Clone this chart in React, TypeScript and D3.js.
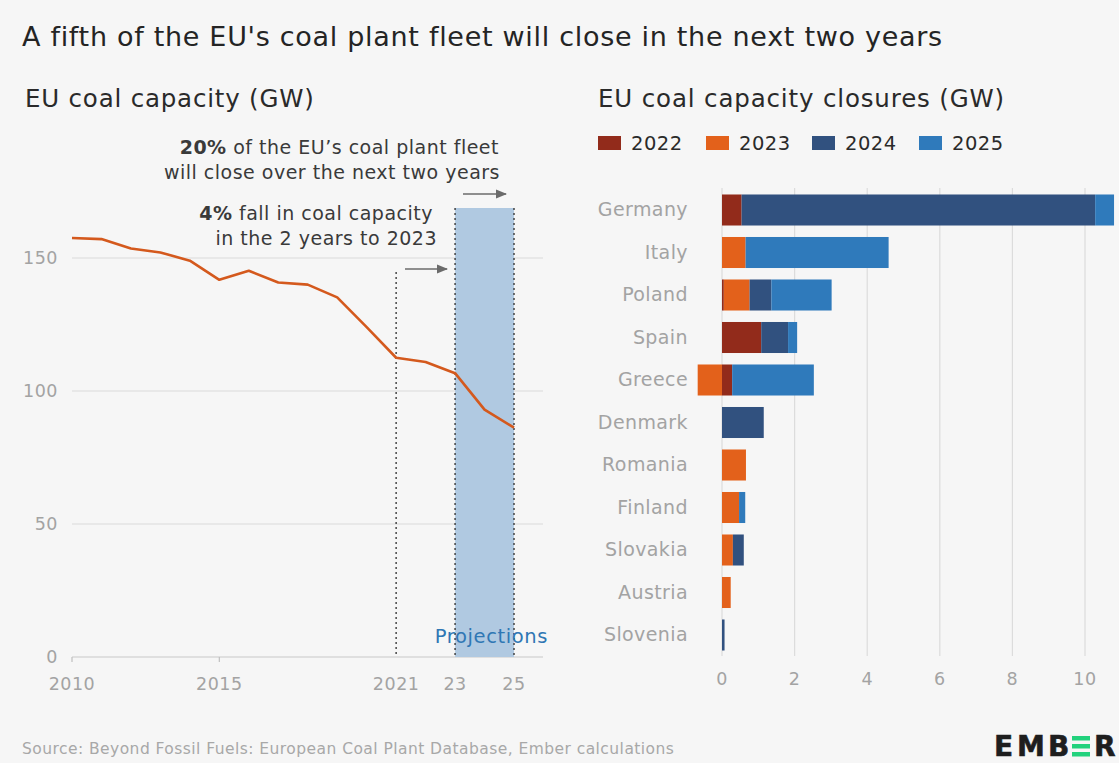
import React from "react";
import * as d3 from "d3";

const years = [2010, 2011, 2012, 2013, 2014, 2015, 2016, 2017, 2018, 2019, 2020, 2021, 2022, 2023, 2024, 2025];
const capacity = [157.5, 157.1, 153.6, 152.1, 149, 141.8, 145.2, 140.8, 140, 135.2, 124, 112.5, 110.9, 106.7, 93, 86.2];
const yTicks = [0, 50, 100, 150];
const xTickYears = [2010, 2015, 2021, 2023, 2025];
const xTickLabels = ["2010", "2015", "2021", "23", "25"];

const countries = ["Germany", "Italy", "Poland", "Spain", "Greece", "Denmark", "Romania", "Finland", "Slovakia", "Austria", "Slovenia"];
const closureYears = ["2022", "2023", "2024", "2025"];
const c2022 = [0.54, 0, 0.05, 1.08, 0.28, 0, 0, 0, 0, 0, 0];
const c2023 = [0, 0.65, 0.71, 0, -0.67, 0, 0.66, 0.47, 0.3, 0.24, 0];
const c2024 = [9.74, 0, 0.6, 0.74, 0, 1.15, 0, 0, 0.3, 0, 0.07];
const c2025 = [0.52, 3.94, 1.66, 0.25, 2.25, 0, 0, 0.17, 0, 0, 0];
const barTicks = [0, 2, 4, 6, 8, 10];

const colors = ["#922b1b", "#e3611b", "#31517f", "#2f7abb"];
const FONT = "'DejaVu Sans', Inter, sans-serif";

export default function App() {
  const W = 1119, H = 763;
  const x = d3.scaleLinear().domain([2010, 2025]).range([72, 514]);
  const y = d3.scaleLinear().domain([0, 150]).range([657, 258]);
  const line = d3.line<number>().x((_, i) => x(years[i])).y((d) => y(d));

  const rows = countries.map((c, i) => ({ country: c, "2022": c2022[i], "2023": c2023[i], "2024": c2024[i], "2025": c2025[i] }));
  const stack = d3.stack<any>().keys(closureYears).offset(d3.stackOffsetDiverging);
  const series = stack(rows);
  const bx = d3.scaleLinear().domain([0, 10]).range([722, 1085]);
  const by = d3.scaleBand().domain(countries).range([188.75, 656.25]).paddingInner(0.27).paddingOuter(0.135);

  const grey = "#a3a3a3";

  return (
    <svg width={W} height={H} style={{ position: "absolute", left: 0, top: 0, background: "#f6f6f6" }} fontFamily={FONT}>
      <defs>
        <marker id="arr" viewBox="0 0 10 10" refX="9" refY="5" markerWidth="7" markerHeight="7" orient="auto">
          <path d="M0,1 L10,5 L0,9 z" fill="#6b6b6b" />
        </marker>
      </defs>
      <rect width={W} height={H} fill="#f6f6f6" />
      <text x={22} y={46} fontSize={27} letterSpacing={0.7} fill="#242424">A fifth of the EU's coal plant fleet will close in the next two years</text>
      <text x={25} y={107} fontSize={24.5} letterSpacing={0.8} fill="#2a2a2a">EU coal capacity (GW)</text>
      <text x={598} y={107} fontSize={24.5} letterSpacing={0.85} fill="#2a2a2a">EU coal capacity closures (GW)</text>

      {/* left chart */}
      {yTicks.map((t) => (
        <g key={t}>
          <line x1={x(2010)} x2={543} y1={y(t)} y2={y(t)} stroke={t === 0 ? "#c8c8c8" : "#d9d9d9"} strokeWidth={1.2} />
          <text x={58} y={y(t) + 6} textAnchor="end" fontSize={17.5} letterSpacing={0.5} fill={grey}>{t}</text>
        </g>
      ))}
      <rect x={x(2023)} y={208} width={x(2025) - x(2023)} height={y(0) - 208} fill="#b0c9e1" />
      {[2021, 2023, 2025].map((yr) => (
        <line key={yr} x1={x(yr)} x2={x(yr)} y1={yr === 2021 ? 272 : 208} y2={y(0)} stroke="#3a3a3a" strokeWidth={1.4} strokeDasharray="2,3" />
      ))}
      {[2010, 2015].map((yr) => (
        <line key={yr} x1={x(yr)} x2={x(yr)} y1={y(0)} y2={y(0) + 5} stroke="#c0c0c0" strokeWidth={1.2} />
      ))}
      {xTickYears.map((yr, i) => (
        <text key={yr} x={x(yr)} y={690} textAnchor="middle" fontSize={17.5} letterSpacing={0.5} fill={grey}>{xTickLabels[i]}</text>
      ))}
      <path d={line(capacity) || ""} fill="none" stroke="#d4591d" strokeWidth={2.6} strokeLinejoin="round" />
      <text x={548} y={643} textAnchor="end" fontSize={19.5} letterSpacing={0.6} fill="#2f77b4">Projections</text>

      <line x1={405} x2={447} y1={269} y2={269} stroke="#6b6b6b" strokeWidth={1.6} markerEnd="url(#arr)" />
      <line x1={463} x2={506} y1={194} y2={194} stroke="#6b6b6b" strokeWidth={1.6} markerEnd="url(#arr)" />

      <g fontSize={19} letterSpacing={0.5} fill="#3a3a3a" textAnchor="end">
        <text x={499} y={154}>
          <tspan fontWeight={700}>20%</tspan> of the EU’s coal plant fleet
        </text>
        <text x={500} y={179}>will close over the next two years</text>
        <text x={433} y={220}>
          <tspan fontWeight={700}>4%</tspan> fall in coal capacity
        </text>
        <text x={437} y={245}>in the 2 years to 2023</text>
      </g>

      {/* right chart legend */}
      {closureYears.map((k, i) => {
        const lx = [598, 706, 812, 919][i];
        return (
          <g key={k}>
            <rect x={lx} y={136} width={23} height={14} fill={colors[i]} />
            <text x={lx + 33} y={150} fontSize={19.5} letterSpacing={0.5} fill="#2a2a2a">{k}</text>
          </g>
        );
      })}

      {barTicks.map((t) => (
        <g key={t}>
          <line x1={bx(t)} x2={bx(t)} y1={188} y2={656} stroke="#dcdcdc" strokeWidth={1.2} />
          <text x={bx(t)} y={685} textAnchor="middle" fontSize={17.5} letterSpacing={0.5} fill={grey}>{t}</text>
        </g>
      ))}
      {series.map((s, si) => (
        <g key={s.key} fill={colors[si]}>
          {s.map((d, i) => {
            const w = bx(d[1]) - bx(d[0]);
            if (Math.abs(w) < 0.01) return null;
            return <rect key={i} x={Math.min(bx(d[0]), bx(d[1]))} y={by(countries[i])} width={Math.abs(w)} height={by.bandwidth()} />;
          })}
        </g>
      ))}
      {countries.map((c) => (
        <text key={c} x={688} y={(by(c) || 0) + by.bandwidth() / 2 + 6} textAnchor="end" fontSize={19} letterSpacing={0.4} fill={grey}>{c}</text>
      ))}

      {/* footer */}
      <text x={22} y={754} fontSize={15.5} letterSpacing={0.45} fill="#a8a8a8">Source: Beyond Fossil Fuels: European Coal Plant Database, Ember calculations</text>
      <g fontWeight={700} fontSize={28} fill="#1e1e1e" fontFamily="'DejaVu Sans', sans-serif" stroke="#1e1e1e" strokeWidth={0.6}>
        <text x={994} y={756}>E</text>
        <text x={1017} y={756}>M</text>
        <text x={1048} y={756}>B</text>
        <g stroke="none" fill="#22d27d">
          <rect x={1072} y={736} width={18} height={4.5} />
          <rect x={1072} y={744} width={18} height={4.5} />
          <rect x={1072} y={752} width={18} height={4.5} />
        </g>
        <text x={1094} y={756}>R</text>
      </g>
    </svg>
  );
}
